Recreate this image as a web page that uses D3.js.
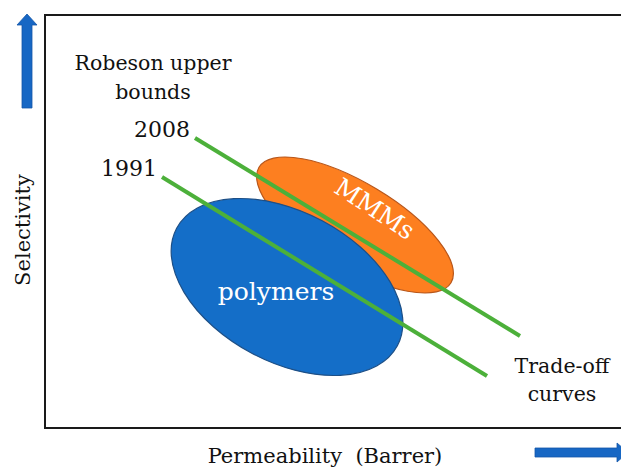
<!DOCTYPE html>
<html>
<head>
<meta charset="utf-8">
<script src="https://cdn.jsdelivr.net/npm/d3@7"></script>
<style>
  body { margin: 0; background: #fff; }
  text { font-family: "DejaVu Serif", serif; }
</style>
</head>
<body>
<div id="chart"></div>
<script>
// Schematic data (units: permeability / selectivity, arbitrary)
const boundYears = ["2008", "1991"];
const boundStart = [[150, 290], [117, 251]];
const boundEnd = [[475, 92], [442, 52]];

const regionNames = ["MMMs", "polymers"];
const regionCenter = [[310, 203], [242, 141]];
const regionRadius = [[112, 42], [125, 75]];
const regionAngle = [31, 28];

var width = 621,
    height = 470;

var svg = d3.select("#chart")
    .append("svg")
    .attr("width", width)
    .attr("height", height);

// scales: plot box from x=45 to the right edge, y from 428 up to 15
var x = d3.scaleLinear().domain([0, 576]).range([45, 621]);
var y = d3.scaleLinear().domain([0, 413]).range([428, 15]);

// frame (top, left, bottom)
svg.append("path")
    .attr("d", "M" + x(576) + "," + y(413) + "H" + x(0) + "V" + y(0) + "H" + x(576))
    .attr("fill", "none")
    .attr("stroke", "#1a1a1a")
    .attr("stroke-width", 2);

// arrows
var arrowBlue = "#1767c4";
svg.append("path")
    .attr("d", "M27,14 L37,25 L32,25 L32,108 L22,108 L22,25 L17,25 Z")
    .attr("fill", arrowBlue)
    .attr("stroke", "#1457a8")
    .attr("stroke-width", 0.8);
svg.append("path")
    .attr("d", "M535,448 L617,448 L617,443 L628,452.5 L617,462 L617,457 L535,457 Z")
    .attr("fill", arrowBlue)
    .attr("stroke", "#1457a8")
    .attr("stroke-width", 0.8);

// regions: MMMs behind polymers
var fills = ["#fd7f20", "#146ec8"];
var strokes = ["#b8561a", "#1d4f86"];
for (let i = 0; i < regionNames.length; i++) {
    let cx = x(regionCenter[i][0]),
        cy = y(regionCenter[i][1]);
    svg.append("ellipse")
        .attr("transform", "translate(" + cx + "," + cy + ") rotate(" + regionAngle[i] + ")")
        .attr("rx", x(regionRadius[i][0]) - x(0))
        .attr("ry", y(0) - y(regionRadius[i][1]))
        .attr("fill", fills[i])
        .attr("stroke", strokes[i])
        .attr("stroke-width", 1.2);
}

// region labels
svg.append("text")
    .attr("transform", "translate(" + 370 + "," + 216 + ") rotate(33)")
    .attr("text-anchor", "middle")
    .style("font-size", "25px")
    .style("fill", "#fff")
    .text(regionNames[0]);
svg.append("text")
    .attr("x", 276)
    .attr("y", 300)
    .attr("text-anchor", "middle")
    .style("font-size", "25px")
    .style("fill", "#fff")
    .text(regionNames[1]);

// Robeson upper bounds
for (let i = 0; i < boundYears.length; i++) {
    svg.append("line")
        .attr("x1", x(boundStart[i][0]))
        .attr("y1", y(boundStart[i][1]))
        .attr("x2", x(boundEnd[i][0]))
        .attr("y2", y(boundEnd[i][1]))
        .attr("stroke", "#4cb03a")
        .attr("stroke-width", 4);
    svg.append("text")
        .attr("x", x(boundStart[i][0]) - 5)
        .attr("y", y(boundStart[i][1]) - 1)
        .attr("text-anchor", "end")
        .style("font-size", "22px")
        .style("fill", "#111")
        .text(boundYears[i]);
}

// annotations
var notes = [
    [153, 70, "Robeson upper"],
    [153, 99, "bounds"],
    [562, 373, "Trade-off"],
    [562, 401, "curves"]
];
notes.forEach(function(n) {
    svg.append("text")
        .attr("x", n[0])
        .attr("y", n[1])
        .attr("text-anchor", "middle")
        .style("font-size", "20.5px")
        .style("fill", "#111")
        .text(n[2]);
});

// axis titles
svg.append("text")
    .attr("x", 325)
    .attr("y", 463)
    .attr("text-anchor", "middle")
    .style("font-size", "21px")
    .style("fill", "#111")
    .style("white-space", "pre")
    .text("Permeability  (Barrer)");
svg.append("text")
    .attr("transform", "translate(30,230) rotate(-90)")
    .attr("text-anchor", "middle")
    .style("font-size", "21px")
    .style("fill", "#111")
    .text("Selectivity");
</script>
</body>
</html>
